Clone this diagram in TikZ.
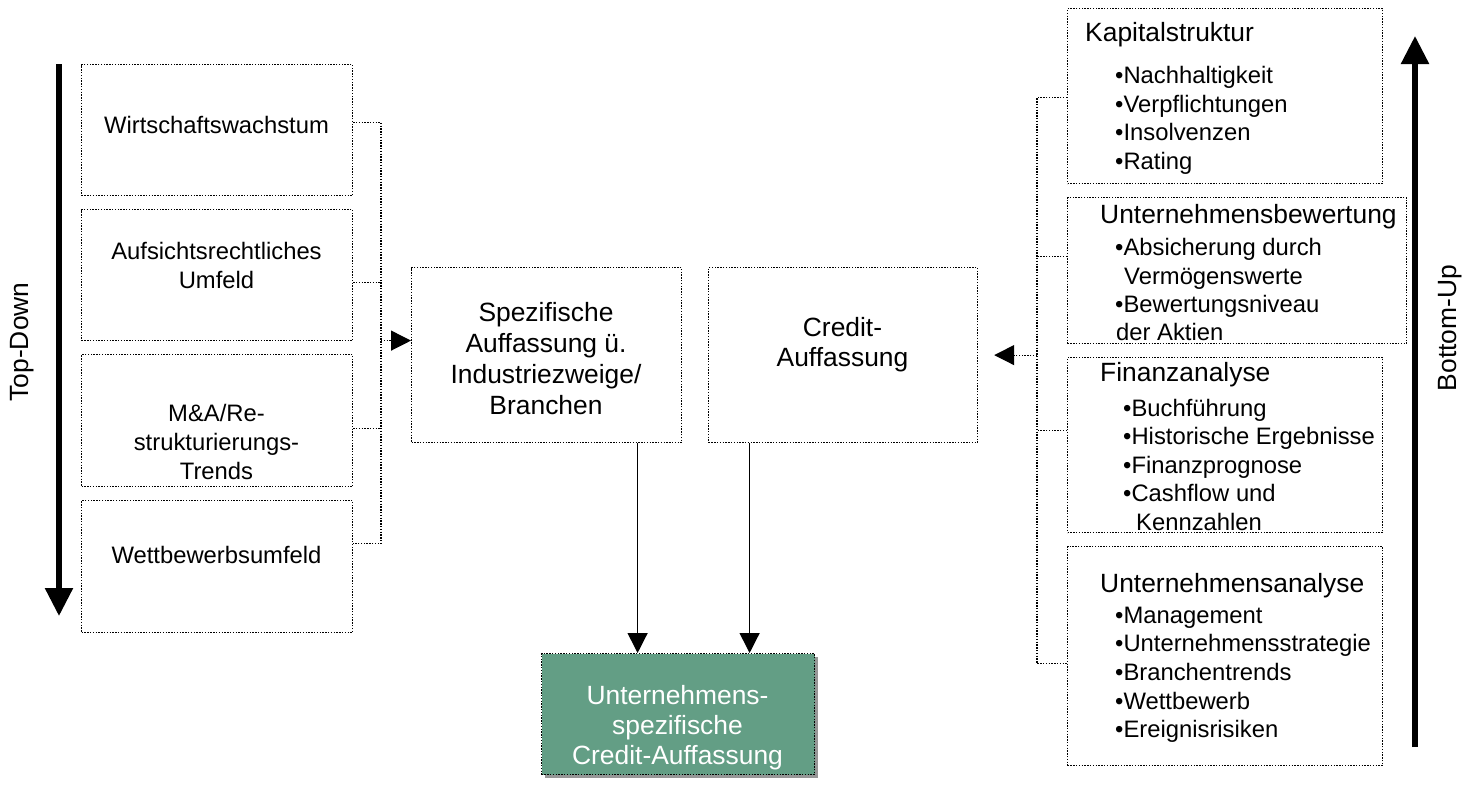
\documentclass[tikz,border=0pt]{standalone}
\usepackage{fontspec}
\setmainfont{Liberation Sans}
\usetikzlibrary{arrows.meta,shadows,calc}
\definecolor{boxgreen}{RGB}{99,158,133}
\definecolor{shadowgray}{RGB}{150,150,150}
\tikzset{
  dl/.style={line width=1.2pt, dash pattern=on 1.4pt off 1.4pt},
  dbox/.style={dl, draw=black, rectangle, inner sep=0pt, anchor=north west},
  tsm/.style={inner sep=0pt, font=\fontsize{23.8}{29}\selectfont, align=center},
  tlg/.style={inner sep=0pt, font=\fontsize{26.4}{31}\selectfont, align=center},
  rl/.style={inner sep=0pt, anchor=base west, font=\fontsize{23.8}{29}\selectfont},
  rh/.style={inner sep=0pt, anchor=base west, font=\fontsize{26.4}{31}\selectfont},
  bigarrow/.style={line width=5.5pt, -{Triangle[length=28pt,width=27pt]}},
  solidarrow/.style={line width=1.3pt, -{Triangle[length=20pt,width=20pt]}},
  dotarrow/.style={dl, -{Triangle[length=20pt,width=20pt]}},
}
\begin{document}
\begin{tikzpicture}[x=1pt,y=-1pt]
\useasboundingbox (0,0) rectangle (1464,785);

% ---- left column
\node[dbox, minimum width=271pt, minimum height=131pt] (L1) at (81,64) {};
\node[dbox, minimum width=271pt, minimum height=131pt] (L2) at (81,209) {};
\node[dbox, minimum width=271pt, minimum height=132pt] (L3) at (81,354) {};
\node[dbox, minimum width=271pt, minimum height=132pt] (L4) at (81,500) {};
\node[tsm] (l1t) at (216.5,125) {Wirtschaftswachstum};
\node[tsm] (l2t) at (216.5,265) {Aufsichtsrechtliches\\Umfeld};
\node[tsm] (l3t) at (216.5,442) {M\&A/Re-\\strukturierungs-\\Trends};
\node[tsm] (l4t) at (216.5,555) {Wettbewerbsumfeld};

% ---- Top-Down
\coordinate (tdS) at (59,64);
\coordinate (tdE) at (59,616);
\draw[bigarrow] (tdS) -- (tdE);
\node[tlg, rotate=90] (td) at (22,342) {Top-Down};

% ---- middle
\node[dbox, minimum width=270pt, minimum height=175pt] (S) at (411,267) {};
\node[dbox, minimum width=269pt, minimum height=175pt] (C) at (708,267) {};
\node[tlg] (st) at (546,359) {Spezifische\\Auffassung ü.\\Industriezweige/\\Branchen};
\node[tlg, font=\fontsize{26.4}{30}\selectfont] (ct) at (842.5,345) {Credit-\\Auffassung};

% ---- green result box
\node[dl, draw=black, fill=boxgreen, rectangle, inner sep=0pt, anchor=north west,
      minimum width=273pt, minimum height=121pt,
      drop shadow={shadow xshift=3pt, shadow yshift=-3pt, fill=shadowgray, opacity=1}] (G) at (541,653) {};
\node[tlg, text=white, font=\fontsize{26.4}{30}\selectfont] (gt) at (677.5,728) {Unternehmens-\\spezifische\\Credit-Auffassung};

% ---- right column
\node[dbox, minimum width=315pt, minimum height=175pt] (K) at (1067,8) {};
\node[dbox, minimum width=339pt, minimum height=146pt] (B) at (1067,197) {};
\node[dbox, minimum width=315pt, minimum height=175pt] (F) at (1067,357) {};
\node[dbox, minimum width=315pt, minimum height=219pt] (U) at (1067,546) {};

\node[rh] (kh) at (1085,41) {Kapitalstruktur};
\node[rl] (k1) at (1115,83) {•Nachhaltigkeit};
\node[rl] (k2) at (1115,112) {•Verpflichtungen};
\node[rl] (k3) at (1115,140) {•Insolvenzen};
\node[rl] (k4) at (1115,169) {•Rating};

\node[rh] (bh) at (1100,223) {Unternehmensbewertung};
\node[rl] (b1) at (1115,255) {•Absicherung durch};
\node[rl] (b2) at (1124,284) {Vermögenswerte};
\node[rl] (b3) at (1115,312) {•Bewertungsniveau};
\node[rl] (b4) at (1116,340) {der Aktien};

\node[rh] (fh) at (1100,381) {Finanzanalyse};
\node[rl] (f1) at (1123,416) {•Buchführung};
\node[rl] (f2) at (1123,444) {•Historische Ergebnisse};
\node[rl] (f3) at (1123,473) {•Finanzprognose};
\node[rl] (f4) at (1123,501) {•Cashflow und};
\node[rl] (f5) at (1136,530) {Kennzahlen};

\node[rh] (uh) at (1100,592) {Unternehmensanalyse};
\node[rl] (u1) at (1115,623) {•Management};
\node[rl] (u2) at (1115,651) {•Unternehmensstrategie};
\node[rl] (u3) at (1115,680) {•Branchentrends};
\node[rl] (u4) at (1115,709) {•Wettbewerb};
\node[rl] (u5) at (1115,737) {•Ereignisrisiken};

% ---- Bottom-Up
\coordinate (buS) at (1415,747);
\coordinate (buE) at (1415,36);
\draw[bigarrow] (buS) -- (buE);
\node[tlg, rotate=90] (bu) at (1450,328) {Bottom-Up};

% ---- left connectors
\coordinate (lb1) at (381,122);
\coordinate (l1s) at ([yshift=7.5pt]L1.east);
\coordinate (l2s) at ([yshift=-7.5pt]L2.east);
\coordinate (l3s) at ([yshift=-8pt]L3.east);
\coordinate (l4s) at ([yshift=23pt]L4.east);
\draw[dl] (l1s) -- (l1s -| lb1) -- (l4s -| lb1) -- (l4s);
\draw[dl] (l2s) -- (l2s -| lb1);
\draw[dl] (l3s) -- (l3s -| lb1);
\coordinate (sin) at ([yshift=14.5pt]S.west);
\draw[dotarrow] (sin -| lb1) -- (sin);

% ---- right connectors
\coordinate (rb1) at (1037,97);
\coordinate (kst) at ([yshift=-1.5pt]K.west);
\coordinate (bst) at ([yshift=14pt]B.west);
\coordinate (fst) at ([yshift=14.5pt]F.west);
\coordinate (ust) at ([yshift=-7.5pt]U.west);
\draw[dl] (kst) -- (kst -| rb1) -- (ust -| rb1) -- (ust);
\draw[dl] (bst) -- (bst -| rb1);
\draw[dl] (fst) -- (fst -| rb1);
\coordinate (cin) at ([xshift=16pt]C.east);
\draw[dotarrow] (cin -| rb1) -- (cin);

% ---- down arrows
\coordinate (sa) at ([xshift=91pt]S.south);
\coordinate (ca) at ([xshift=-93.5pt]C.south);
\draw[solidarrow] (sa) -- (sa |- G.north);
\draw[solidarrow] (ca) -- (ca |- G.north);
\end{tikzpicture}
\end{document}
